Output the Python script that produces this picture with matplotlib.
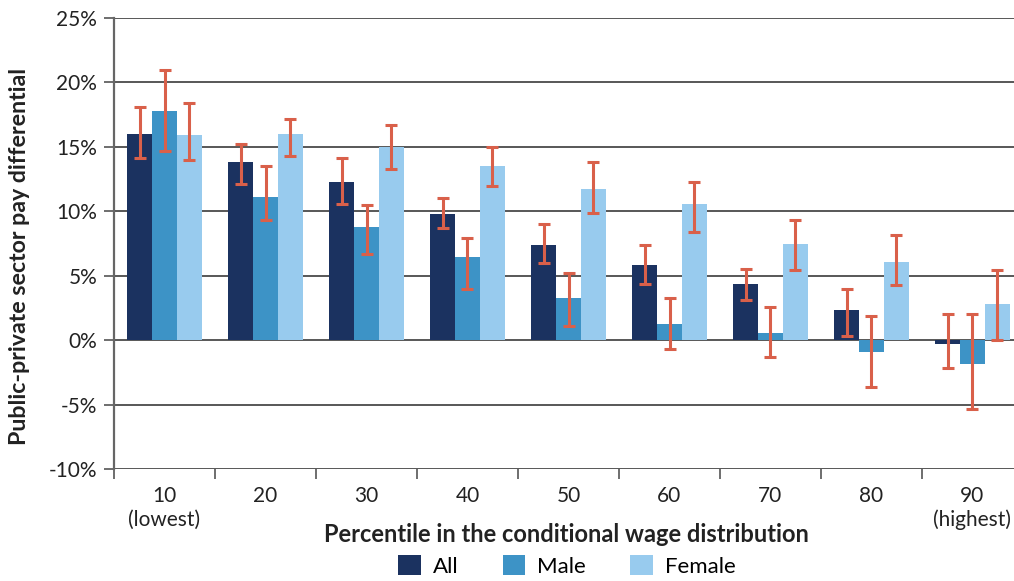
import numpy as np
import matplotlib.pyplot as plt
from matplotlib.ticker import FuncFormatter

plt.rcParams['font.family'] = ['Lato', 'DejaVu Sans']

categories = ['10\n(lowest)', '20', '30', '40', '50', '60', '70', '80', '90\n(highest)']

# point estimates (%)
all_vals = [16.0, 13.8, 12.25, 9.8, 7.35, 5.8, 4.35, 2.35, -0.3]
male_vals = [17.75, 11.1, 8.75, 6.45, 3.25, 1.25, 0.55, -0.9, -1.85]
female_vals = [15.9, 16.0, 15.0, 13.5, 11.7, 10.6, 7.5, 6.05, 2.8]

# confidence intervals (low, high) in %
all_low = [14.1, 12.1, 10.6, 8.7, 5.95, 4.35, 3.1, 0.3, -2.15]
all_high = [18.1, 15.2, 14.1, 11.0, 9.05, 7.35, 5.5, 4.0, 2.0]
male_low = [14.7, 9.3, 6.7, 4.0, 1.1, -0.7, -1.3, -3.65, -5.35]
male_high = [20.95, 13.5, 10.5, 7.9, 5.2, 3.25, 2.55, 1.85, 2.0]
female_low = [14.0, 14.3, 13.3, 12.0, 9.9, 8.4, 5.45, 4.25, 0.0]
female_high = [18.4, 17.2, 16.7, 15.0, 13.8, 12.25, 9.3, 8.15, 5.45]

series = [
    ('All', all_vals, all_low, all_high, '#1b3260'),
    ('Male', male_vals, male_low, male_high, '#3d93c6'),
    ('Female', female_vals, female_low, female_high, '#98cbee'),
]

W, H = 1014, 581
fig = plt.figure(figsize=(W / 100, H / 100), dpi=100)
ax = fig.add_axes([114 / W, 1 - 469 / H, 909 / W, 451 / H])

x = np.arange(len(categories))
width = 0.247
err_color = '#d9604a'

for i, (name, vals, low, high, color) in enumerate(series):
    pos = x + (i - 1) * width
    vals = np.array(vals)
    ax.bar(pos, vals, width=width, color=color, label=name, zorder=3)
    yerr = [vals - np.array(low), np.array(high) - vals]
    ax.errorbar(pos, vals, yerr=yerr, fmt='none', ecolor=err_color,
                elinewidth=2.2, capsize=4.5, capthick=2.2, zorder=4)

ax.set_xlim(-0.5, len(categories) - 0.5)
ax.set_ylim(-10, 25)
ax.set_yticks(np.arange(-10, 26, 5))
ax.yaxis.set_major_formatter(FuncFormatter(lambda v, p: f'{v:.0f}%'))

ax.grid(axis='y', color='#4a4a4a', linewidth=1.3, zorder=0)
for s in ['top', 'right', 'bottom']:
    ax.spines[s].set_visible(False)
ax.spines['left'].set_color('#666666')
ax.spines['left'].set_linewidth(1.6)

ax.set_xticks(x)
ax.set_xticklabels(categories, linespacing=1.25)
ax.set_xticks(np.arange(len(categories) + 1) - 0.5, minor=True)
ax.tick_params(axis='x', which='major', length=0, pad=12, labelsize=15, labelcolor='#222222')
ax.tick_params(axis='x', which='minor', length=7, width=1.2, color='#555555')
ax.tick_params(axis='y', length=7, width=1.2, color='#555555', labelsize=15,
               labelcolor='#222222', pad=5)

fig.text(20 / W, 1 - 256 / H, 'Public-private sector pay differential', fontsize=16.7,
         fontweight='bold', color='#222222', rotation=90, ha='center', va='center')
fig.text(566 / W, 1 - 535 / H, 'Percentile in the conditional wage distribution',
         fontsize=17, fontweight='bold', color='#222222', ha='center', va='center')

fig.legend(loc='center', bbox_to_anchor=(567 / W, 1 - 566 / H), ncol=3, frameon=False,
           fontsize=16, handlelength=1.0, handleheight=1.0, columnspacing=2.0,
           handletextpad=0.55, borderpad=0.2)

fig.savefig('out.png', dpi=100)
